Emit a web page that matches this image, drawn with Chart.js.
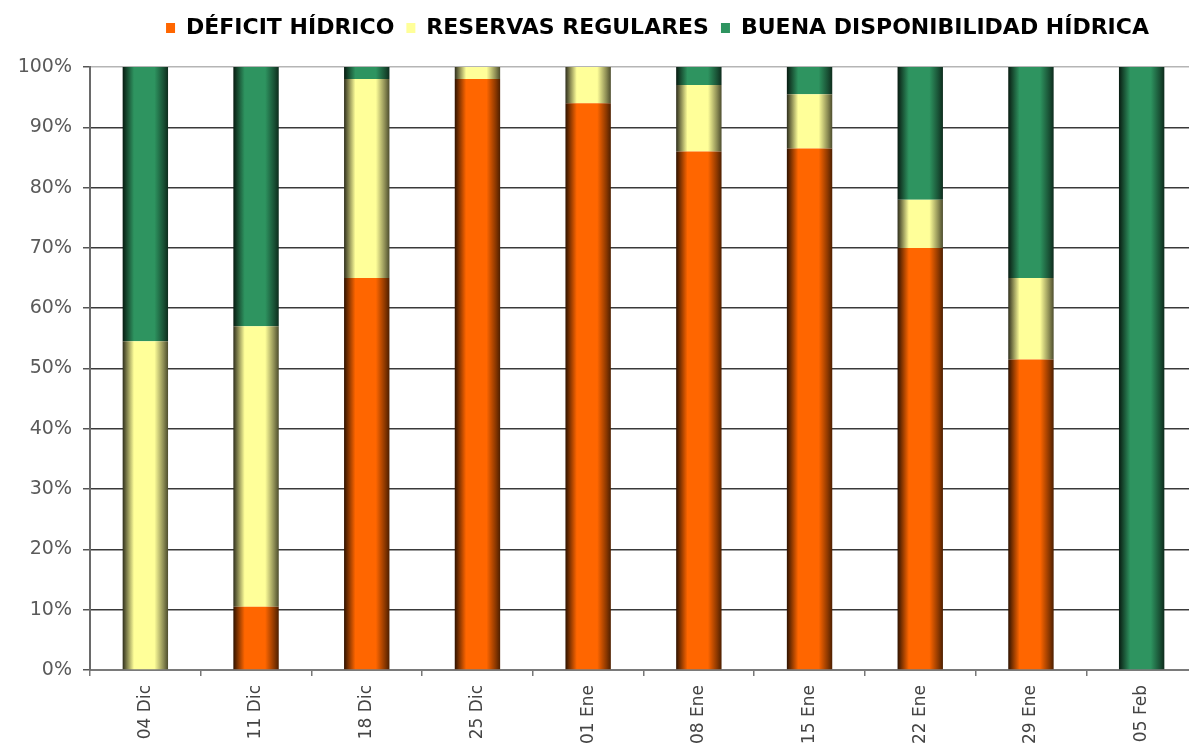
<!DOCTYPE html>
<html>
<head>
<meta charset="utf-8">
<script src="https://cdn.jsdelivr.net/npm/chart.js@4/dist/chart.umd.min.js"></script>
<style>
  html, body { margin: 0; padding: 0; background: #ffffff; overflow: hidden; width: 1189px; height: 756px; }
  #wrap { width: 1197px; height: 756px; }
</style>
</head>
<body>
<div id="wrap"><canvas id="c" width="1197" height="756"></canvas></div>
<script>
// ---- data ----
const categories = ["04 Dic", "11 Dic", "18 Dic", "25 Dic", "01 Ene", "08 Ene", "15 Ene", "22 Ene", "29 Ene", "05 Feb"];
const seriesNames = ["DÉFICIT HÍDRICO", "RESERVAS REGULARES", "BUENA DISPONIBILIDAD HÍDRICA"];
const deficit  = [0, 10.5, 65, 98, 94, 86, 86.5, 70, 51.5, 0];
const reservas = [54.5, 46.5, 33, 2, 6, 11, 9, 8, 13.5, 0];
const buena    = [45.5, 43, 2, 0, 0, 3, 4.5, 22, 35, 100];
const yTicks   = [0, 10, 20, 30, 40, 50, 60, 70, 80, 90, 100];

const BAR_PCT = 0.41;

function shade(hex, f) {
  const n = parseInt(hex.slice(1), 16);
  const r = Math.round(((n >> 16) & 255) * f);
  const g = Math.round(((n >> 8) & 255) * f);
  const b = Math.round((n & 255) * f);
  return `rgb(${r},${g},${b})`;
}

function cylinder(base) {
  return (c) => {
    if (c.type !== 'data') return base;
    const ch = c.chart;
    const xs = ch.scales && ch.scales.x;
    if (!xs || !isFinite(xs.width) || xs.width <= 0) return base;
    const cx = xs.getPixelForValue(c.dataIndex);
    const w = xs.width / categories.length * BAR_PCT;
    if (!isFinite(cx) || !isFinite(w)) return base;
    const g = ch.ctx.createLinearGradient(cx - w / 2, 0, cx + w / 2, 0);
    g.addColorStop(0, shade(base, 0.18));
    g.addColorStop(0.08, shade(base, 0.45));
    g.addColorStop(0.25, base);
    g.addColorStop(0.7, base);
    g.addColorStop(0.9, shade(base, 0.55));
    g.addColorStop(1, shade(base, 0.3));
    return g;
  };
}

const colors = ["#FF6600", "#FFFF99", "#2E9460"];

const layoutPlugin = {
  id: 'fixedLegendHeight',
  beforeLayout(chart) {
    const lg = chart.legend;
    if (lg && !lg.__patched) {
      const fit = lg.fit;
      lg.fit = function () { fit.call(this); this.height = 62; };
      lg.__patched = true;
    }
  },
  afterLayout(chart) {
    const lg = chart.legend;
    if (lg) { lg.left += 14; lg.right += 14; }
  }
};

new Chart(document.getElementById('c'), {
  type: 'bar',
  data: {
    labels: categories,
    datasets: [
      { label: seriesNames[0], data: deficit,  backgroundColor: cylinder(colors[0]), borderWidth: 0 },
      { label: seriesNames[1], data: reservas, backgroundColor: cylinder(colors[1]), borderWidth: 0 },
      { label: seriesNames[2], data: buena,    backgroundColor: cylinder(colors[2]), borderWidth: 0 }
    ]
  },
  options: {
    responsive: false,
    animation: false,
    layout: { padding: { top: 5, left: 0, right: 0, bottom: 0 } },
    datasets: { bar: { barPercentage: BAR_PCT, categoryPercentage: 1.0 } },
    plugins: {
      tooltip: { enabled: false },
      legend: {
        position: 'top',
        align: 'center',
        fullSize: false,
        labels: {
          boxWidth: 9,
          boxHeight: 10,
          padding: 12,
          color: '#111111',
          font: { family: 'DejaVu Sans', size: 22, weight: 'bold' },
          generateLabels(chart) {
            return chart.data.datasets.map((ds, i) => ({
              text: ds.label,
              fillStyle: colors[i],
              strokeStyle: colors[i],
              lineWidth: 0,
              hidden: false,
              datasetIndex: i
            }));
          }
        }
      }
    },
    scales: {
      x: {
        stacked: true,
        offset: true,
        afterFit(scale) { scale.height = 86; },
        grid: { display: true, offset: true, drawOnChartArea: false, drawTicks: true, tickLength: 6, color: '#777777', lineWidth: 1.5 },
        border: { display: true, color: '#7a7a7a', width: 2 },
        ticks: {
          autoSkip: false,
          minRotation: 90,
          maxRotation: 90,
          padding: 9,
          color: '#444444',
          font: { family: 'DejaVu Sans', size: 17 }
        }
      },
      y: {
        stacked: true,
        min: 0,
        max: 100,
        afterFit(scale) { scale.width = 90; },
        afterBuildTicks(scale) { scale.ticks = yTicks.map(v => ({ value: v })); },
        grid: {
          drawTicks: true,
          tickLength: 7,
          color: (c) => (c.tick && c.tick.value === 100) ? '#b5b5b5' : '#3a3a3a',
          tickColor: '#555555',
          lineWidth: 1.5
        },
        border: { display: true, color: '#6a6a6a', width: 2 },
        ticks: {
          padding: 11,
          color: '#5a5a5a',
          font: { family: 'DejaVu Sans', size: 19 },
          callback: (v) => v + '%'
        }
      }
    }
  },
  plugins: [layoutPlugin]
});
</script>
</body>
</html>
